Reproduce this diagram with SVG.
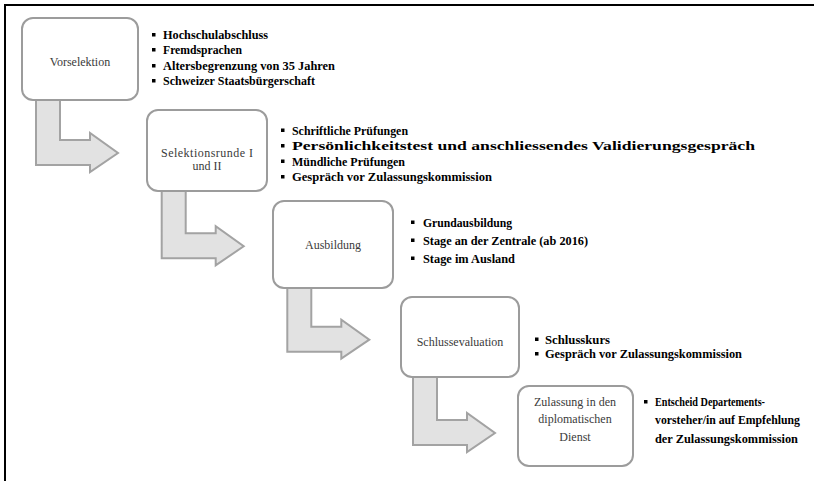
<svg xmlns="http://www.w3.org/2000/svg" xmlns:xlink="http://www.w3.org/1999/xlink" width="814" height="481" viewBox="0 0 814 481">
<style>
.box{fill:#ffffff;stroke:#9c9c9c;stroke-width:2}
.arr{fill:#e2e2e2;stroke:#a3a3a3;stroke-width:2;stroke-linejoin:miter}
.lbl{font-family:"Liberation Serif","DejaVu Serif",serif;font-size:12px;fill:#3a3a3a;text-anchor:middle}
.bt{font-family:"Liberation Serif","DejaVu Serif",serif;font-size:12px;font-weight:bold;fill:#000}
.bu{fill:#000}
</style>
<defs>
<path id="bent" d="M36,95 L60,95 L60,140 L90,140 L90,133 L118,153 L90,172 L90,165 L36,165 Z"/>
</defs>
<rect x="5" y="5" width="900" height="600" fill="none" stroke="#000" stroke-width="2"/>
<g id="connectors">
<use xlink:href="#bent" class="arr"/>
<use xlink:href="#bent" class="arr" transform="translate(125.7,93.3)"/>
<use xlink:href="#bent" class="arr" transform="translate(251.3,186.7)"/>
<use xlink:href="#bent" class="arr" transform="translate(377,280)"/>
</g>
<g id="vorselektion">
<rect class="box" x="22" y="18" width="116" height="82" rx="11"/>
<text class="lbl" x="80" y="66">Vorselektion</text>
<rect class="bu" x="152" y="33" width="3.5" height="3.5"/>
<text class="bt" x="163" y="39" textLength="105" lengthAdjust="spacingAndGlyphs">Hochschulabschluss</text>
<rect class="bu" x="152" y="48" width="3.5" height="3.5"/>
<text class="bt" x="163" y="54" textLength="79" lengthAdjust="spacingAndGlyphs">Fremdsprachen</text>
<rect class="bu" x="152" y="64" width="3.5" height="3.5"/>
<text class="bt" x="163" y="70" textLength="172" lengthAdjust="spacingAndGlyphs">Altersbegrenzung  von 35 Jahren</text>
<rect class="bu" x="152" y="79" width="3.5" height="3.5"/>
<text class="bt" x="163" y="85" textLength="152" lengthAdjust="spacingAndGlyphs">Schweizer  Staatsbürgerschaft</text>
</g>
<g id="selektionsrunde">
<rect class="box" x="147" y="110" width="120" height="81" rx="11"/>
<text class="lbl" x="207" y="157" textLength="92" lengthAdjust="spacing">Selektionsrunde  I</text>
<text class="lbl" x="207" y="170">und II</text>
<rect class="bu" x="281" y="128.5" width="3.5" height="3.5"/>
<text class="bt" x="292" y="134.5" textLength="116" lengthAdjust="spacingAndGlyphs">Schriftliche Prüfungen</text>
<rect class="bu" x="281" y="144" width="3.5" height="3.5"/>
<text class="bt" x="292" y="150" textLength="463" lengthAdjust="spacingAndGlyphs">Persönlichkeitstest  und anschliessendes  Validierungsgespräch</text>
<rect class="bu" x="281" y="159.5" width="3.5" height="3.5"/>
<text class="bt" x="292" y="165.5" textLength="113" lengthAdjust="spacingAndGlyphs">Mündliche Prüfungen</text>
<rect class="bu" x="281" y="175" width="3.5" height="3.5"/>
<text class="bt" x="292" y="181" textLength="200" lengthAdjust="spacingAndGlyphs">Gespräch  vor Zulassungskommission</text>
</g>
<g id="ausbildung">
<rect class="box" x="273" y="201" width="120" height="87" rx="11"/>
<text class="lbl" x="333" y="249">Ausbildung</text>
<rect class="bu" x="411" y="220.5" width="3.5" height="3.5"/>
<text class="bt" x="423" y="226.5" textLength="89" lengthAdjust="spacingAndGlyphs">Grundausbildung</text>
<rect class="bu" x="411" y="238.5" width="3.5" height="3.5"/>
<text class="bt" x="423" y="244.5" textLength="165" lengthAdjust="spacingAndGlyphs">Stage an der Zentrale (ab 2016)</text>
<rect class="bu" x="411" y="256.5" width="3.5" height="3.5"/>
<text class="bt" x="423" y="262.5" textLength="92" lengthAdjust="spacingAndGlyphs">Stage im Ausland</text>
</g>
<g id="schlussevaluation">
<rect class="box" x="401" y="297" width="118" height="80" rx="11"/>
<text class="lbl" x="460" y="346">Schlussevaluation</text>
<rect class="bu" x="535" y="337.5" width="3.5" height="3.5"/>
<text class="bt" x="545" y="343.5" textLength="65" lengthAdjust="spacingAndGlyphs">Schlusskurs</text>
<rect class="bu" x="535" y="352" width="3.5" height="3.5"/>
<text class="bt" x="545" y="358" textLength="197" lengthAdjust="spacingAndGlyphs">Gespräch  vor Zulassungskommission</text>
</g>
<g id="zulassung">
<rect class="box" x="518" y="386" width="115" height="80" rx="11"/>
<text class="lbl" x="575" y="406">Zulassung in den</text>
<text class="lbl" x="575" y="423">diplomatischen</text>
<text class="lbl" x="575" y="441">Dienst</text>
<rect class="bu" x="644" y="400" width="3.5" height="3.5"/>
<text class="bt" x="655" y="406" textLength="110" lengthAdjust="spacingAndGlyphs">Entscheid Departements-</text>
<text class="bt" x="655" y="424" textLength="145" lengthAdjust="spacingAndGlyphs">vorsteher/in auf Empfehlung</text>
<text class="bt" x="655" y="443" textLength="143" lengthAdjust="spacingAndGlyphs">der Zulassungskommission</text>
</g>
</svg>
